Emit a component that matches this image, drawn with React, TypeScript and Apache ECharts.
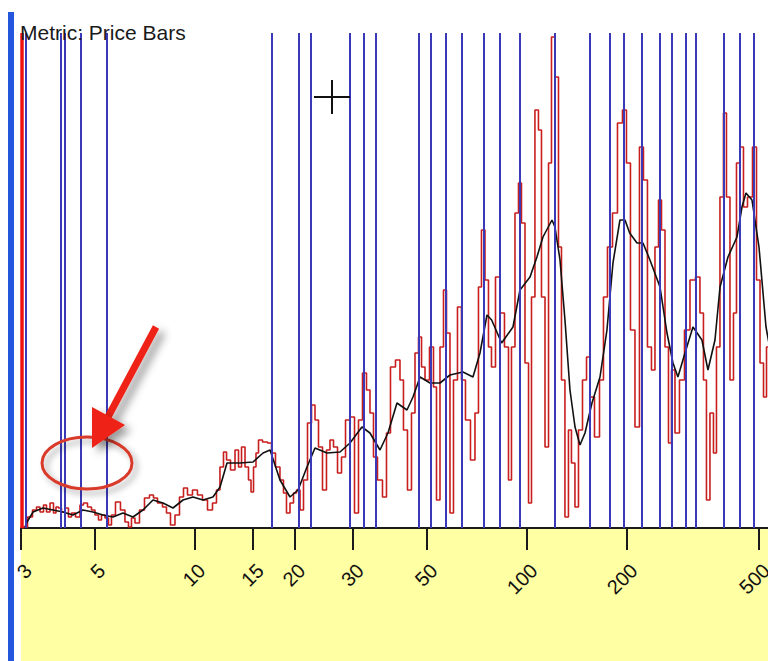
import React, { useEffect, useRef } from "react";
import * as echarts from "echarts";

// Period (x, log scale) of each vertex of the red "price bars" metric line, and its height
const redPeriods = [3.021,3.084,3.193,3.306,3.376,3.47,3.543,3.618,3.719,3.797,3.85,3.931,4.013,4.126,4.212,4.301,4.453,4.578,4.675,4.84,4.941,5.08,5.186,5.295,5.445,5.559,5.675,5.876,6.082,6.254,6.385,6.519,6.703,6.939,7.184,7.437,7.594,7.862,8.139,8.31,8.603,8.845,9.157,9.35,9.678,10.02,10.37,10.74,11.12,11.51,11.75,12.08,12.34,12.6,13.04,13.41,13.69,13.98,14.37,14.67,14.88,15.19,15.4,15.73,16.28,16.86,17.21,17.81,18.31,18.7,19.09,19.63,20.04,20.47,21.04,21.48,22.24,22.71,23.34,23.84,24.67,25.19,25.9,26.45,27.38,27.96,28.94,29.76,30.8,31.45,32.56,33.24,34.18,34.89,36.12,37.4,38.18,39.53,40.92,42.07,42.95,44.47,45.41,46.69,47.68,48.68,50.04,51.8,52.89,54.0,55.52,56.69,57.87,59.5,60.75,62.89,64.21,66.48,68.82,70.75,72.24,73.76,75.84,77.43,79.06,81.85,84.14,87.12,88.94,90.81,93.37,95.33,97.32,100.1,102.2,104.3,107.2,109.5,111.8,115.0,117.4,119.8,123.2,125.8,128.4,132.0,134.8,137.6,141.5,144.5,149.6,152.8,157.0,162.6,168.3,171.8,177.9,184.2,190.6,197.4,201.5,208.6,214.5,222.0,226.7,234.7,239.6,246.4,251.6,256.9,264.1,269.6,275.3,283.0,293.0,303.4,316.2,327.3,336.5,343.6,350.8,360.7,368.3,376.0,386.6,394.8,403.0,414.4,423.1,432.0,444.1,453.5,469.5,486.1,496.3,510.3,521.0,531.9,546.9];
const redValues = [0,1,11,18,21,16,23,16,25,15,21,20,16,20,11,15,11,23,25,21,18,13,8,13,10,3,13,26,18,6,1,10,5,18,30,33,30,25,21,15,3,13,31,40,33,38,33,28,18,25,38,61,76,68,58,78,61,81,61,48,36,61,75,88,86,85,75,61,48,35,15,25,35,38,18,48,105,123,108,81,38,78,88,81,55,71,108,111,15,108,155,138,115,71,48,31,95,161,168,148,98,38,115,175,191,161,148,181,141,28,181,238,195,15,148,221,148,108,68,115,241,298,248,181,161,251,215,181,48,181,315,345,305,165,25,231,418,398,231,81,365,491,451,281,148,11,98,65,21,98,148,171,131,91,148,231,281,315,405,418,365,198,101,381,348,181,158,281,328,298,181,85,158,95,148,198,248,251,215,148,28,115,75,181,331,415,331,148,215,365,381,321,331,381,248,165,131,181,228];

// Smoothed (black) line
const blackPeriods = [3.084,3.128,3.261,3.494,3.745,4.013,4.301,4.61,4.941,5.295,5.675,6.082,6.519,6.987,7.489,8.027,8.603,9.222,9.881,10.59,11.35,11.92,12.51,13.69,14.98,16.06,16.86,18.06,19.36,20.47,21.78,23.02,25.02,27.38,29.34,31.88,33.7,36.12,38.18,40.64,43.55,45.41,47.68,51.09,54.74,58.68,64.21,68.82,72.24,75.84,78.33,83.95,90.81,95.33,102.2,107.2,111.8,119.0,121.5,125.8,130.2,134.8,139.6,144.5,149.6,157.0,166.0,174.2,181.6,190.6,197.4,203.9,214.5,223.6,234.7,251.6,264.1,275.3,284.9,299.2,316.2,336.5,350.8,368.3,381.4,403.0,429.0,444.1,456.6,476.0,499.7,524.6,546.9];
const blackValues = [1,6,16,20,18,16,13,18,16,13,11,15,11,18,28,25,20,28,31,28,31,41,65,65,66,75,78,48,31,38,61,80,75,76,85,101,95,78,95,125,118,131,151,145,145,153,156,151,175,213,208,185,201,238,251,271,291,308,301,268,208,138,101,83,95,125,151,198,265,308,308,295,285,285,268,241,195,165,151,175,201,188,158,188,241,271,291,321,335,328,281,201,168];

// Blue cycle markers (periods)
const cyclePeriods = [3.11,3.96,4.05,4.54,5.43,17.05,20.6,22.4,29.2,32.2,35.1,47.4,51.5,57.0,63.5,73.9,82.6,95.1,120.9,154.9,177.5,195.7,221.6,251.6,273.4,299.8,321.3,391.3,438.1,481.6];
const startPeriod = 3.02;

const tickValues = [3, 5, 10, 15, 20, 30, 50, 100, 200, 500];

export default function App() {
  const ref = useRef<HTMLDivElement>(null);
  useEffect(() => {
    document.body.style.margin = "0";
    if (!ref.current) return;
    const chart = echarts.init(ref.current, null, { renderer: "svg" });
    const font = '"Liberation Sans", Arial, sans-serif';
    chart.setOption({
      animation: false,
      backgroundColor: "#ffffff",
      grid: { left: 21, right: 0, top: 33, bottom: 133, containLabel: false, outerBoundsMode: "none" },
      xAxis: {
        type: "log",
        logBase: 10,
        min: 3,
        max: 531.9,
        axisLine: { show: true, lineStyle: { color: "#1a1a1a", width: 2 } },
        axisTick: {
          show: true,
          customValues: tickValues,
          length: 22,
          lineStyle: { color: "#1a1a1a", width: 2 },
        },
        axisLabel: {
          show: true,
          customValues: tickValues,
          rotate: 45,
          margin: 32,
          fontSize: 20,
          fontFamily: font,
          color: "#111",
          verticalAlign: "top",
        },
        splitLine: { show: false },
        minorTick: { show: false },
      },
      yAxis: {
        type: "value",
        min: 0,
        max: 495,
        show: false,
        splitLine: { show: false },
      },
      series: [
        {
          type: "line",
          name: "Price Bars",
          data: redPeriods.map((p, i) => [p, redValues[i]]),
          symbol: "none",
          step: "middle",
          lineStyle: { color: "#c81e1e", width: 1.6 },
          clip: true,
          z: 3,
        },
        {
          type: "line",
          name: "Smoothed",
          data: blackPeriods.map((p, i) => [p, blackValues[i]]),
          symbol: "none",
          lineStyle: { color: "#111111", width: 1.6 },
          clip: true,
          z: 4,
        },
        {
          type: "line",
          name: "Cycles",
          data: [],
          z: 5,
          markLine: {
            silent: true,
            symbol: ["none", "none"],
            label: { show: false },
            lineStyle: { color: "#3a3ab8", width: 2, type: "solid" },
            data: [
              ...cyclePeriods.map((p) => ({ xAxis: p })),
              { xAxis: startPeriod, lineStyle: { color: "#ee1111", width: 3.5, type: "solid" } },
            ],
          },
        },
      ],
      graphic: [
        {
          type: "rect",
          z: -1,
          shape: { x: 21, y: 529, width: 747, height: 132 },
          style: { fill: "#ffffa3" },
        },
        {
          type: "rect",
          z: 10,
          shape: { x: 8, y: 12, width: 6, height: 649 },
          style: { fill: "#2456de" },
        },
        {
          type: "text",
          z: 10,
          style: {
            text: "Metric: Price Bars",
            x: 20,
            y: 32,
            verticalAlign: "middle",
            font: '21px "Liberation Sans", Arial, sans-serif',
            fill: "#1a1a1a",
          },
        },
        {
          type: "line",
          z: 10,
          shape: { x1: 314, y1: 97, x2: 350, y2: 97 },
          style: { stroke: "#111", lineWidth: 2 },
        },
        {
          type: "line",
          z: 10,
          shape: { x1: 332, y1: 80, x2: 332, y2: 114 },
          style: { stroke: "#111", lineWidth: 2 },
        },
        {
          type: "ellipse",
          z: 10,
          shape: { cx: 87, cy: 463, rx: 45, ry: 26 },
          style: {
            fill: "none",
            stroke: "#d93a2c",
            lineWidth: 3,
            shadowBlur: 6,
            shadowColor: "rgba(0,0,0,0.35)",
            shadowOffsetX: 4,
            shadowOffsetY: 4,
          },
        },
        {
          type: "line",
          z: 10,
          shape: { x1: 156, y1: 327, x2: 108, y2: 417 },
          style: {
            stroke: "#ee2014",
            lineWidth: 7,
            shadowBlur: 8,
            shadowColor: "rgba(0,0,0,0.4)",
            shadowOffsetX: 6,
            shadowOffsetY: 5,
          },
        },
        {
          type: "polygon",
          z: 11,
          shape: { points: [[92, 407], [125, 425], [92, 448]] },
          style: {
            fill: "#ee2014",
            shadowBlur: 8,
            shadowColor: "rgba(0,0,0,0.4)",
            shadowOffsetX: 6,
            shadowOffsetY: 5,
          },
        },
      ],
    });
    return () => chart.dispose();
  }, []);
  return <div ref={ref} style={{ width: 768, height: 661 }} />;
}
